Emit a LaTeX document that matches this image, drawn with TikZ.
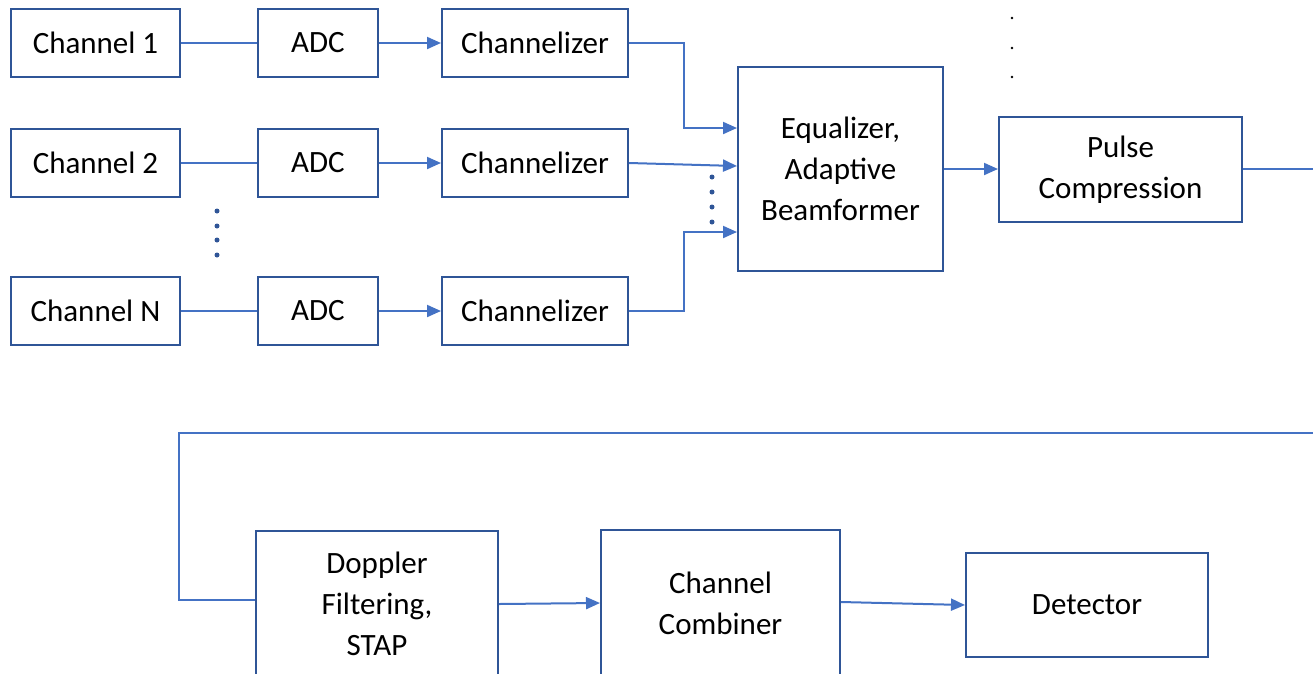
\documentclass[tikz,border=0pt]{standalone}
\usepackage{fontspec}
\setmainfont{Carlito}
\usetikzlibrary{arrows.meta}
\definecolor{boxblue}{HTML}{2F5597}
\definecolor{linkblue}{HTML}{4472C4}
\tikzset{
  box/.style={draw=boxblue, line width=2pt, rectangle, align=center, inner sep=0pt,
    font=\fontsize{31}{41}\selectfont, text=black},
  link/.style={draw=linkblue, line width=2pt},
  arr/.style={link, -{Triangle[length=14pt,width=12pt]}},
  bigdot/.style={fill=boxblue, draw=none},
  smalldot/.style={fill=black, draw=none}
}
\begin{document}
\begin{tikzpicture}[x=1pt,y=-1pt]
\useasboundingbox (0,0) rectangle (1313,673);
\clip (0,0) rectangle (1313,673);
% column 1
\node[box, minimum width=169pt, minimum height=68pt] (c1) at (95.5,43) {Channel 1};
\node[box, minimum width=169pt, minimum height=68pt] (c2) at (95.5,163) {Channel 2};
\node[box, minimum width=169pt, minimum height=68pt] (cN) at (95.5,311) {Channel N};
% ADC
\node[box, minimum width=120pt, minimum height=68pt] (a1) at (318,43) {ADC};
\node[box, minimum width=120pt, minimum height=68pt] (a2) at (318,163) {ADC};
\node[box, minimum width=120pt, minimum height=68pt] (aN) at (318,311) {ADC};
% Channelizers
\node[box, minimum width=186pt, minimum height=68pt] (h1) at (535,43) {Channelizer};
\node[box, minimum width=186pt, minimum height=68pt] (h2) at (535,163) {Channelizer};
\node[box, minimum width=186pt, minimum height=68pt] (hN) at (535,311) {Channelizer};
% Equalizer
\node[box, minimum width=205pt, minimum height=204pt] (eq) at (840.5,169) {Equalizer,\\Adaptive\\Beamformer};
% Pulse compression
\node[box, minimum width=243pt, minimum height=105pt] (pc) at (1120.5,169.5) {Pulse\\Compression};
% bottom row
\node[box, minimum width=242pt, minimum height=146pt] (dop) at (377,604) {Doppler\\Filtering,\\STAP};
\node[box, minimum width=239pt, minimum height=146pt] (comb) at (720.5,603) {Channel\\Combiner};
\node[box, minimum width=242pt, minimum height=104pt] (det) at (1087,605) {Detector};

% coordinates
\coordinate (j1) at (684,43);
\coordinate (jN) at (684,311);
\coordinate (out) at (1313,169);
\coordinate (r1) at (1313,433);
\coordinate (r2) at (179,433);

% connectors
\draw[link] (c1.east) -- (a1.west);
\draw[link] (c2.east) -- (a2.west);
\draw[link] (cN.east) -- (aN.west);
\draw[arr] (a1.east) -- (h1.west);
\draw[arr] (a2.east) -- (h2.west);
\draw[arr] (aN.east) -- (hN.west);
\draw[arr] (h1.east) -- (j1) |- ([yshift=41pt]eq.west);
\draw[arr] (h2.east) -- ([yshift=3pt]eq.west);
\draw[arr] (hN.east) -- (jN) |- ([yshift=-63pt]eq.west);
\draw[arr] (eq.east) -- (pc.west |- eq.east);
\draw[link] (pc.east |- out) -- (out);
\draw[link] (r1) -- (r2) |- ([yshift=4pt]dop.west);
\draw[arr] (dop.east) -- (comb.west);
\draw[arr] ([yshift=1pt]comb.east) -- (det.west);

% dots
\foreach \y in {211,226,240,255} \fill[bigdot] (217,\y) circle (2.5pt);
\foreach \y in {177,192,207,222} \fill[bigdot] (712,\y) circle (2.5pt);
\foreach \y in {18,48,77} \fill[smalldot] (1012,\y) circle (1.3pt);
\end{tikzpicture}
\end{document}
